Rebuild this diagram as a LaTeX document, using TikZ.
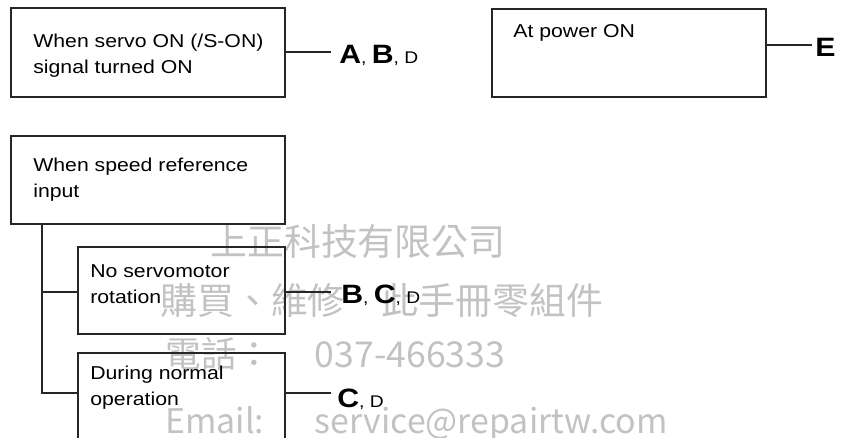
\documentclass[tikz,border=0pt]{standalone}
\usepackage{fontspec}
\setmainfont{Liberation Sans}[FakeStretch=1.14]
\newfontfamily\wmfont{Noto Sans CJK TC}
\usetikzlibrary{positioning,calc}
\newcommand\boldkey[1]{{\fontsize{15.1}{17}\selectfont\bfseries #1}}
\tikzset{box/.style={draw=black!85,line width=.6pt,anchor=north west,inner sep=0pt,outer sep=0pt},
 txt/.style={anchor=base west,align=left,inner sep=0pt,font=\fontsize{10.6}{14.6}\selectfont},
 lab/.style={anchor=base west,inner sep=0pt,font=\fontsize{9.6}{11}\selectfont},
 wire/.style={draw=black!85,line width=.6pt},
 wm/.style={anchor=base west,inner sep=0pt,text=black!24,font=\wmfont\fontsize{21}{24}\selectfont}}

\begin{document}
\begin{tikzpicture}[x=0.2mm,y=-0.2mm]
\useasboundingbox (0,0) rectangle (841,438);
\clip (0,0) rectangle (841,438);
% watermark
\node[wm] (wm1) at (210,255) {上正科技有限公司};
\node[wm] (wm2) at (160,314) {購買、維修　此手冊零組件};
\node[wm,font=\wmfont\fontsize{20.3}{24}\selectfont] (wm3) at (165,367) {\makebox[85pt][l]{電話：}037-466333};
\node[wm,font=\wmfont\fontsize{19.3}{24}\selectfont] (wm4) at (165,433) {\makebox[85pt][l]{Email:}service@repairtw.com};
% servo on
\node[box,minimum width=54.8mm,minimum height=17.8mm] (srv) at (11,8) {};
\node[txt] (srvtxt) at (33,73.5) {When servo ON (/S-ON)\\signal turned ON};
\coordinate (srvend) at (331,52);
\draw[wire] (srv.east |- srvend) -- (srvend);
\node[lab] (srvlab) at (339,64) {\boldkey{A}, \boldkey{B}, D};
% power on
\node[box,minimum width=54.8mm,minimum height=17.6mm] (pwr) at (492,9) {};
\node[txt] (pwrtxt) at (513,38) {At power ON};
\coordinate (pwrend) at (812,45);
\draw[wire] (pwr.east |- pwrend) -- (pwrend);
\node[lab] (pwrlab) at (815,57) {\boldkey{E}};
% speed reference
\node[box,minimum width=54.8mm,minimum height=17.6mm] (spd) at (11,136) {};
\node[txt] (spdtxt) at (33,197.5) {When speed reference\\input};
\node[box,minimum width=41.4mm,minimum height=17.4mm] (stop) at (78,247) {};
\node[txt] (stoptxt) at (90,303) {No servomotor\\rotation};
\node[box,minimum width=41.4mm,minimum height=20mm] (run) at (78,353) {};
\node[txt] (runtxt) at (90,405) {During normal\\operation};
\coordinate (stopend) at (331,292);
\coordinate (runend) at (331,393);
\coordinate (knee) at (42,393);
\draw[wire] (spd.south -| knee) -- (knee) -- (knee -| run.west);
\draw[wire] (stop.west |- stopend) -- (stopend -| knee);
\draw[wire] (stop.east |- stopend) -- (stopend);
\draw[wire] (run.east |- runend) -- (runend);
\node[lab] (stoplab) at (341,303) {\boldkey{B}, \boldkey{C}, D};
\node[lab] (runlab) at (337,407) {\boldkey{C}, D};
\end{tikzpicture}
\end{document}
